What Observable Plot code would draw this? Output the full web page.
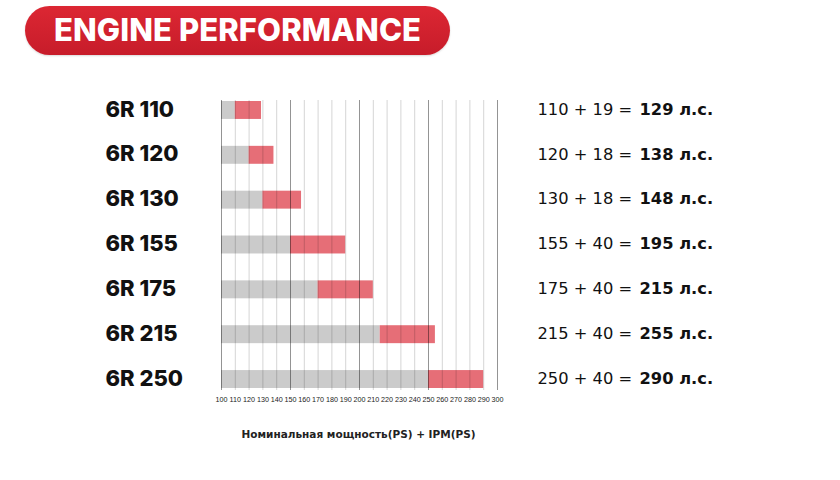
<!DOCTYPE html>
<html>
<head>
<meta charset="utf-8">
<script src="https://cdn.jsdelivr.net/npm/d3@7"></script>
<script src="https://cdn.jsdelivr.net/npm/@observablehq/plot@0.6"></script>
<style>
  html, body { margin: 0; padding: 0; background: #fff; }
  #wrap { position: relative; width: 840px; height: 480px; overflow: hidden; }
  #title {
    position: absolute; left: 25px; top: 6px; width: 425px; height: 49px;
    border-radius: 25px; background: linear-gradient(#dc2733, #c71c2a);
    color: #fff; font-family: Inter, Roboto, sans-serif; font-weight: 800;
    font-size: 31px; letter-spacing: 0.1px; line-height: 48px; text-align: center;
    box-shadow: 0 1px 2px rgba(0,0,0,0.15);
  }
  #chart { position: absolute; left: 0; top: 0; }
</style>
</head>
<body>
<div id="wrap">
  <div id="title">ENGINE PERFORMANCE</div>
  <div id="chart"></div>
</div>
<script>
// labels / texts
const models = ["6R 110", "6R 120", "6R 130", "6R 155", "6R 175", "6R 215", "6R 250"];
const nominal = [110, 120, 130, 155, 175, 215, 250];
const ipm = [19, 18, 18, 40, 40, 40, 40];
const totals = [129, 138, 148, 195, 215, 255, 290];
// bar extents as drawn in the picture
const barBase = [110, 120, 130, 150, 170, 215, 250];
const barEnd = [129, 138, 158, 190, 210, 255, 290];
const tickValues = [100, 110, 120, 130, 140, 150, 160, 170, 180, 190, 200, 210, 220, 230, 240, 250, 260, 270, 280, 290, 300];
const majorTicks = [100, 150, 200, 250, 300];
const axisTitle = "Номинальная мощность(PS) + IPM(PS)";
const unit = "л.с.";

const rows = models.map((m, i) => ({
  model: m, nominal: nominal[i], ipm: ipm[i], total: totals[i], base: barBase[i], end: barEnd[i]
}));
const minorTicks = tickValues.filter(t => !majorTicks.includes(t));

const chart = Plot.plot({
  width: 840,
  height: 480,
  marginLeft: 221,
  marginRight: 343,
  marginTop: 101,
  marginBottom: 92,
  style: { fontFamily: "'Liberation Sans', sans-serif", background: "transparent" },
  x: { domain: [100, 300] },
  y: { domain: models, paddingInner: 0.6, paddingOuter: 0, round: false },
  marks: [
    Plot.barX(rows, { y: "model", x1: 100, x2: "base", fill: "#cbcbcb" }),
    Plot.barX(rows, { y: "model", x1: "base", x2: "end", fill: "#e66e77" }),
    Plot.ruleX(minorTicks, { stroke: "#000", strokeOpacity: 0.17, insetTop: -1, insetBottom: -2 }),
    Plot.ruleX(majorTicks, { stroke: "#000", strokeOpacity: 0.42, insetTop: -1, insetBottom: -2 }),
    Plot.axisX({ ticks: tickValues, tickSize: 0, tickPadding: 8, fontSize: 7.2, fill: "#222", label: null,
      tickFormat: d => String(d), style: "letter-spacing:-0.3px" }),
    Plot.axisY({ ticks: [], label: null }),
    Plot.text([axisTitle], { frameAnchor: "bottom", dy: 49, dx: -1, text: d => d, fontFamily: "'DejaVu Sans', sans-serif",
      fontWeight: "bold", fontSize: 10.5, fill: "#222" }),
    Plot.text(rows, { y: "model", frameAnchor: "left", dx: -116, dy: -1, textAnchor: "start", text: "model",
      fontFamily: "Inter, Roboto, sans-serif", fontWeight: 800, fontSize: 22, fill: "#111", style: "letter-spacing:-0.7px" }),
    Plot.text(rows, { y: "model", frameAnchor: "right", dx: 40, dy: -1, textAnchor: "start",
      text: d => `${d.nominal} + ${d.ipm} =`, fontFamily: "'DejaVu Sans', sans-serif", fontSize: 16.3, fill: "#111" }),
    Plot.text(rows, { y: "model", frameAnchor: "right", dx: 142, dy: -1, textAnchor: "start",
      text: d => `${d.total} ${unit}`, fontFamily: "'DejaVu Sans', sans-serif", fontWeight: "bold", fontSize: 16.3, fill: "#111" })
  ]
});
document.getElementById("chart").appendChild(chart);
</script>
</body>
</html>
